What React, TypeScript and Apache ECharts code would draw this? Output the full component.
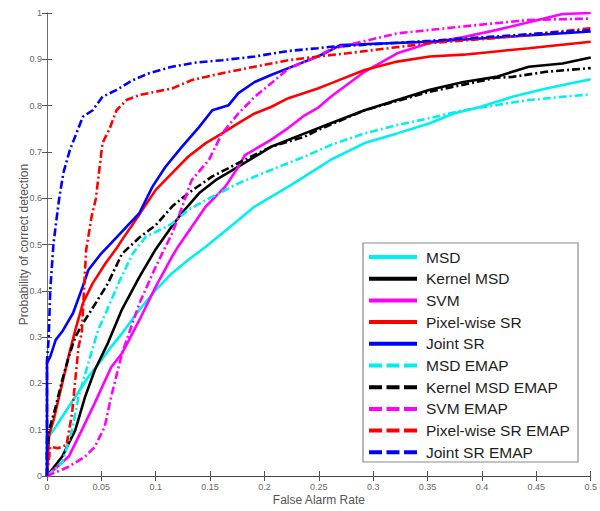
import { useEffect, useRef } from "react";
import * as echarts from "echarts";

// ---- data (false alarm rate, probability of detection) ----
const msd: number[][] = [[0,0],[0,0.08],[0.0015,0.085],[0.008,0.106],[0.014,0.128],[0.026,0.171],[0.038,0.214],[0.05,0.25],[0.059,0.279],[0.069,0.308],[0.085,0.359],[0.1,0.402],[0.115,0.438],[0.13,0.467],[0.146,0.495],[0.161,0.524],[0.176,0.553],[0.191,0.582],[0.206,0.603],[0.222,0.625],[0.249,0.665],[0.261,0.683],[0.292,0.719],[0.322,0.74],[0.352,0.762],[0.374,0.783],[0.398,0.797],[0.428,0.819],[0.459,0.837],[0.5,0.857]];
const kernelMsd: number[][] = [[0,0],[0.014,0.042],[0.026,0.099],[0.035,0.171],[0.044,0.229],[0.056,0.287],[0.069,0.36],[0.085,0.43],[0.1,0.49],[0.115,0.54],[0.124,0.568],[0.14,0.611],[0.155,0.639],[0.176,0.668],[0.206,0.711],[0.237,0.74],[0.261,0.762],[0.292,0.79],[0.322,0.812],[0.352,0.834],[0.383,0.851],[0.413,0.862],[0.443,0.884],[0.474,0.891],[0.5,0.904]];
const svm: number[][] = [[0,0],[0.02,0.042],[0.032,0.099],[0.044,0.158],[0.059,0.235],[0.069,0.265],[0.085,0.337],[0.1,0.409],[0.115,0.474],[0.121,0.497],[0.133,0.538],[0.146,0.582],[0.164,0.625],[0.176,0.668],[0.182,0.693],[0.206,0.726],[0.222,0.752],[0.237,0.779],[0.249,0.795],[0.261,0.819],[0.292,0.873],[0.322,0.913],[0.352,0.935],[0.383,0.948],[0.413,0.963],[0.443,0.98],[0.474,0.998],[0.5,1.0]];
const pixelSr: number[][] = [[0,0],[0.002,0.09],[0.006,0.12],[0.012,0.18],[0.02,0.26],[0.026,0.315],[0.033,0.373],[0.042,0.416],[0.054,0.46],[0.064,0.492],[0.069,0.51],[0.085,0.565],[0.1,0.618],[0.115,0.654],[0.13,0.69],[0.146,0.719],[0.161,0.74],[0.176,0.762],[0.191,0.783],[0.206,0.797],[0.222,0.816],[0.249,0.837],[0.261,0.848],[0.292,0.877],[0.322,0.895],[0.352,0.906],[0.383,0.91],[0.413,0.917],[0.443,0.924],[0.5,0.938]];
const jointSr: number[][] = [[0,0],[0,0.244],[0.003,0.258],[0.008,0.294],[0.014,0.312],[0.024,0.352],[0.033,0.41],[0.038,0.445],[0.05,0.481],[0.059,0.503],[0.073,0.538],[0.085,0.568],[0.097,0.625],[0.109,0.668],[0.124,0.711],[0.14,0.754],[0.152,0.79],[0.167,0.801],[0.176,0.827],[0.191,0.851],[0.206,0.866],[0.222,0.881],[0.237,0.895],[0.249,0.906],[0.261,0.92],[0.27,0.931],[0.352,0.938],[0.413,0.947],[0.5,0.96]];
const msdEmap: number[][] = [[0,0],[0.014,0.028],[0.023,0.099],[0.029,0.171],[0.038,0.244],[0.047,0.315],[0.054,0.352],[0.067,0.423],[0.079,0.481],[0.091,0.517],[0.1,0.527],[0.115,0.545],[0.13,0.575],[0.146,0.596],[0.161,0.614],[0.176,0.632],[0.206,0.661],[0.237,0.69],[0.261,0.715],[0.292,0.74],[0.322,0.758],[0.352,0.773],[0.383,0.79],[0.413,0.801],[0.443,0.812],[0.474,0.819],[0.5,0.824]];
const kernelMsdEmap: number[][] = [[0,0],[0,0.05],[0.002,0.099],[0.008,0.15],[0.014,0.207],[0.02,0.258],[0.026,0.3],[0.033,0.33],[0.041,0.359],[0.056,0.416],[0.069,0.48],[0.085,0.515],[0.1,0.542],[0.115,0.582],[0.13,0.611],[0.152,0.647],[0.176,0.676],[0.206,0.711],[0.237,0.733],[0.249,0.747],[0.292,0.79],[0.352,0.83],[0.413,0.86],[0.428,0.862],[0.459,0.873],[0.5,0.881]];
const svmEmap: number[][] = [[0,0],[0.02,0.02],[0.035,0.042],[0.044,0.063],[0.053,0.106],[0.059,0.171],[0.069,0.265],[0.085,0.373],[0.1,0.452],[0.115,0.524],[0.121,0.56],[0.133,0.639],[0.149,0.683],[0.161,0.74],[0.176,0.783],[0.191,0.819],[0.206,0.848],[0.222,0.88],[0.237,0.895],[0.249,0.906],[0.261,0.922],[0.322,0.956],[0.383,0.971],[0.443,0.985],[0.5,0.988]];
const pixelSrEmap: number[][] = [[0,0],[0.003,0.063],[0.01,0.06],[0.018,0.067],[0.023,0.135],[0.026,0.207],[0.029,0.279],[0.032,0.31],[0.034,0.4],[0.036,0.488],[0.041,0.56],[0.045,0.6],[0.051,0.719],[0.057,0.747],[0.064,0.79],[0.073,0.812],[0.085,0.823],[0.1,0.83],[0.115,0.837],[0.133,0.855],[0.161,0.87],[0.191,0.884],[0.222,0.898],[0.249,0.906],[0.276,0.913],[0.352,0.935],[0.413,0.946],[0.5,0.967]];
const jointSrEmap: number[][] = [[0,0],[0,0.25],[0.0015,0.294],[0.003,0.402],[0.006,0.503],[0.011,0.596],[0.015,0.654],[0.021,0.704],[0.027,0.74],[0.033,0.776],[0.042,0.79],[0.051,0.819],[0.064,0.834],[0.079,0.855],[0.094,0.87],[0.115,0.884],[0.137,0.893],[0.161,0.898],[0.191,0.906],[0.222,0.918],[0.249,0.924],[0.261,0.927],[0.352,0.94],[0.5,0.963]];

const seriesNames = ["MSD", "Kernel MSD", "SVM", "Pixel-wise SR", "Joint SR", "MSD EMAP", "Kernel MSD EMAP", "SVM EMAP", "Pixel-wise SR EMAP", "Joint SR EMAP"];
const seriesData = [msd, kernelMsd, svm, pixelSr, jointSr, msdEmap, kernelMsdEmap, svmEmap, pixelSrEmap, jointSrEmap];
const seriesDashed = [false, false, false, false, false, true, true, true, true, true];
const seriesColors = ["#00F0F0", "#000000", "#FF00FF", "#FF0000", "#0000FF", "#00F0F0", "#000000", "#FF00FF", "#FF0000", "#0000FF"];

const xMin = 0, xMax = 0.5, xStep = 0.05;
const yMin = 0, yMax = 1, yStep = 0.1;

const FONT = "'Liberation Sans', Arial, sans-serif";

export default function App() {
  const ref = useRef<HTMLDivElement>(null);
  useEffect(() => {
    if (!ref.current) return;
    const chart = echarts.init(ref.current, undefined, { renderer: "svg" });
    const axisLineStyle = { color: "#6e6e6e", width: 1 };
    const tickStyle = { color: "#555", width: 1 };
    const xLabelFmt = (v: number) => String(+v.toFixed(2));
    const yLabelFmt = (v: number) => String(+v.toFixed(1));

    const legendX = 363, legendY = 243, legendW = 215, legendH = 219;
    const rowTop = 257, rowGap = 21.7;
    const legendEls: any[] = [
      { type: "rect", shape: { x: legendX, y: legendY, width: legendW, height: legendH }, style: { fill: "#fff", stroke: "#8a8a8a", lineWidth: 1.2 }, z: 100 },
    ];
    seriesNames.forEach((name, i) => {
      const cy = rowTop + i * rowGap;
      legendEls.push({
        type: "line", z: 101,
        shape: { x1: 369, y1: cy, x2: 417, y2: cy },
        style: { stroke: seriesColors[i], lineWidth: 4, lineDash: seriesDashed[i] ? [13, 4.5] : null },
      });
      legendEls.push({
        type: "text", z: 101, x: 426, y: cy,
        style: { text: name, fontSize: 15.5, fill: "#1e1e1e", fontFamily: FONT, verticalAlign: "middle", align: "left" },
      });
    });

    chart.setOption({
      animation: false,
      backgroundColor: "#fff",
      grid: { left: 47, right: 7, top: 13, bottom: 35, containLabel: false },
      xAxis: [
        {
          type: "value", min: xMin, max: xMax, interval: xStep, position: "bottom",
          name: "False Alarm Rate", nameLocation: "middle", nameGap: 17.5, nameMoveOverlap: false,
          nameTextStyle: { fontSize: 12, color: "#555", fontFamily: FONT, verticalAlign: "top" },
          axisLine: { show: true, lineStyle: axisLineStyle },
          axisTick: { show: true, inside: true, length: 5, lineStyle: tickStyle },
          axisLabel: { fontSize: 9, color: "#666", margin: 6, fontFamily: FONT, formatter: xLabelFmt },
          splitLine: { show: false },
        },
        {
          type: "value", min: xMin, max: xMax, interval: xStep, position: "top",
          axisLine: { show: true, lineStyle: { color: "#444", width: 1 } },
          axisTick: { show: true, inside: true, length: 5, lineStyle: tickStyle },
          axisLabel: { show: false },
          splitLine: { show: false },
        },
      ],
      yAxis: [
        {
          type: "value", min: yMin, max: yMax, interval: yStep, position: "left",
          name: "Probability of correct detection", nameLocation: "middle", nameGap: 17, nameMoveOverlap: false,
          nameTextStyle: { fontSize: 12, color: "#555", fontFamily: FONT },
          axisLine: { show: true, lineStyle: axisLineStyle },
          axisTick: { show: true, inside: true, length: 5, lineStyle: tickStyle },
          axisLabel: { fontSize: 9, color: "#666", margin: 5, fontFamily: FONT, formatter: yLabelFmt },
          splitLine: { show: false },
        },
        {
          type: "value", min: yMin, max: yMax, interval: yStep, position: "right",
          axisLine: { show: true, lineStyle: axisLineStyle },
          axisTick: { show: true, inside: true, length: 5, lineStyle: tickStyle },
          axisLabel: { show: false },
          splitLine: { show: false },
        },
      ],
      series: seriesNames.map((name, i) => ({
        name,
        type: "line",
        xAxisIndex: 0,
        yAxisIndex: 0,
        data: seriesData[i],
        symbol: "none",
        showSymbol: false,
        z: 2 + i,
        lineStyle: {
          color: seriesColors[i],
          width: 2.6,
          type: seriesDashed[i] ? [8, 3, 2, 3] : "solid",
        },
      })),
      graphic: legendEls,
    });
    return () => chart.dispose();
  }, []);
  return <div ref={ref} style={{ position: "absolute", left: 0, top: 0, width: 600, height: 511, background: "#fff" }} />;
}
